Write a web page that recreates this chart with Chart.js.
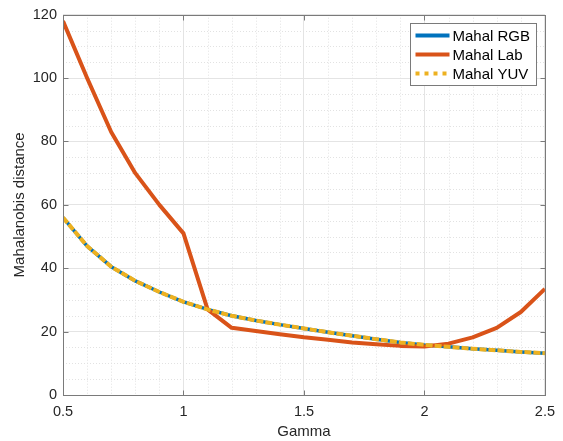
<!DOCTYPE html>
<html>
<head>
<meta charset="utf-8">
<script src="https://cdn.jsdelivr.net/npm/chart.js@4.4.0/dist/chart.umd.min.js"></script>
<style>
  html, body { margin: 0; padding: 0; background: #fff; }
  canvas { display: block; }
</style>
</head>
<body>
<canvas id="gammaChart" width="563" height="441"></canvas>
<script>
// gamma sweep and the resulting Mahalanobis distances per colour space
var gammaValues = [0.5, 0.6, 0.7, 0.8, 0.9, 1.0, 1.1, 1.2, 1.3, 1.4, 1.5,
                   1.6, 1.7, 1.8, 1.9, 2.0, 2.1, 2.2, 2.3, 2.4, 2.5];
var mahalRGB = [56, 47, 40.5, 36, 32.5, 29.4, 27, 25, 23.5, 22.2, 21,
                19.8, 18.7, 17.6, 16.6, 15.8, 15.2, 14.6, 14.1, 13.6, 13.2];
var mahalLab = [118, 100, 83, 70, 60, 51, 27, 21.2, 20.2, 19.2, 18.2,
                17.4, 16.6, 16, 15.5, 15.3, 16.2, 18.2, 21.2, 26.2, 33.5];
var mahalYUV = [56, 47, 40.5, 36, 32.5, 29.4, 27, 25, 23.5, 22.2, 21,
                19.8, 18.7, 17.6, 16.6, 15.8, 15.2, 14.6, 14.1, 13.6, 13.2];

var xTicks = [0.5, 1, 1.5, 2, 2.5];
var yTicks = [0, 20, 40, 60, 80, 100, 120];

var FONT = 'Helvetica, Arial, "Liberation Sans", sans-serif';
var TEXT = '#262626';

function pts(ys) {
    return gammaValues.map(function(g, i) { return {x: g, y: ys[i]}; });
}

// dotted minor grid, drawn under the curves
var minorGrid = {
    id: 'minorGrid',
    beforeDatasetsDraw: function(chart) {
        var ctx = chart.ctx, a = chart.chartArea;
        var xs = chart.scales.x, ys = chart.scales.y;
        ctx.save();
        ctx.strokeStyle = '#e2e2e2';
        ctx.lineWidth = 1;
        ctx.setLineDash([1, 2]);
        for (var i = 5; i <= 25; i++) {
            if (i % 5 === 0) continue;
            var px = Math.round(xs.getPixelForValue(i / 10)) + 0.5;
            ctx.beginPath(); ctx.moveTo(px, a.top); ctx.lineTo(px, a.bottom); ctx.stroke();
        }
        for (var v = 5; v < 120; v += 5) {
            if (v % 20 === 0) continue;
            var py = Math.round(ys.getPixelForValue(v)) + 0.5;
            ctx.beginPath(); ctx.moveTo(a.left, py); ctx.lineTo(a.right, py); ctx.stroke();
        }
        ctx.restore();
    }
};

// box round the axes with inward tick marks on all four sides
var axesBox = {
    id: 'axesBox',
    afterDatasetsDraw: function(chart) {
        var ctx = chart.ctx, a = chart.chartArea;
        var xs = chart.scales.x, ys = chart.scales.y;
        var L = Math.round(a.left) + 0.5, R = Math.round(a.right) + 0.5;
        var T = Math.round(a.top) + 0.5, B = Math.round(a.bottom) + 0.5;
        ctx.save();
        ctx.strokeStyle = '#7a7a7a';
        ctx.lineWidth = 1;
        ctx.strokeRect(L, T, R - L, B - T);
        ctx.beginPath();
        xTicks.forEach(function(v) {
            var px = Math.round(xs.getPixelForValue(v)) + 0.5;
            ctx.moveTo(px, B); ctx.lineTo(px, B - 5);
            ctx.moveTo(px, T); ctx.lineTo(px, T + 5);
        });
        yTicks.forEach(function(v) {
            var py = Math.round(ys.getPixelForValue(v)) + 0.5;
            ctx.moveTo(L, py); ctx.lineTo(L + 5, py);
            ctx.moveTo(R, py); ctx.lineTo(R - 5, py);
        });
        ctx.stroke();
        ctx.restore();
    }
};

// legend box in the top right corner of the axes
var boxLegend = {
    id: 'boxLegend',
    afterDraw: function(chart) {
        var ctx = chart.ctx, a = chart.chartArea;
        var w = 126, h = 62;
        var x0 = Math.round(a.right) - 9 - w + 0.5, y0 = Math.round(a.top) + 8 + 0.5;
        ctx.save();
        ctx.fillStyle = '#fff';
        ctx.fillRect(x0, y0, w, h);
        ctx.strokeStyle = '#7a7a7a';
        ctx.lineWidth = 1;
        ctx.strokeRect(x0, y0, w, h);
        ctx.font = '15px ' + FONT;
        ctx.textBaseline = 'middle';
        ctx.fillStyle = '#000';
        chart.data.datasets.forEach(function(ds, i) {
            var y = y0 + 12 + i * 19;
            ctx.beginPath();
            ctx.strokeStyle = ds.borderColor;
            ctx.lineWidth = 4;
            ctx.setLineDash(ds.borderDash && ds.borderDash.length ? [4, 5] : []);
            ctx.moveTo(x0 + 5, y); ctx.lineTo(x0 + 39, y);
            ctx.stroke();
            ctx.setLineDash([]);
            ctx.fillText(ds.label, x0 + 42, y + 1);
        });
        ctx.restore();
    }
};

var ctx = document.getElementById('gammaChart').getContext('2d');
var gammaChart = new Chart(ctx, {
    type: 'line',
    data: {
        datasets: [{
            label: 'Mahal RGB',
            data: pts(mahalRGB),
            borderColor: '#0072BD',
            borderWidth: 3.5,
            order: 3
        }, {
            label: 'Mahal Lab',
            data: pts(mahalLab),
            borderColor: '#D95319',
            borderWidth: 4,
            order: 2
        }, {
            label: 'Mahal YUV',
            data: pts(mahalYUV),
            borderColor: '#EDB120',
            borderWidth: 4,
            borderDash: [7, 2],
            order: 1
        }]
    },
    options: {
        responsive: false,
        animation: false,
        devicePixelRatio: 1,
        layout: { padding: { left: 1, top: 14, right: 15, bottom: 0 } },
        elements: {
            point: { radius: 0 },
            line: { tension: 0, borderJoinStyle: 'round', borderCapStyle: 'butt', fill: false }
        },
        plugins: {
            legend: { display: false },
            tooltip: { enabled: false }
        },
        scales: {
            x: {
                type: 'linear',
                min: 0.5,
                max: 2.5,
                afterBuildTicks: function(scale) {
                    scale.ticks = xTicks.map(function(v) { return {value: v}; });
                },
                afterFit: function(scale) { scale.height = 46; },
                grid: { color: '#e4e4e4', drawTicks: false },
                border: { display: false },
                ticks: {
                    padding: 8,
                    color: TEXT,
                    font: { family: FONT, size: 14.5 },
                    maxRotation: 0,
                    autoSkip: false,
                    callback: function(v) { return String(v); }
                },
                title: {
                    display: true,
                    text: 'Gamma',
                    color: TEXT,
                    font: { family: FONT, size: 15 },
                    padding: { top: 0, bottom: 0 }
                }
            },
            y: {
                min: 0,
                max: 120,
                afterBuildTicks: function(scale) {
                    scale.ticks = yTicks.map(function(v) { return {value: v}; });
                },
                afterFit: function(scale) { scale.width = 62; },
                grid: { color: '#e4e4e4', drawTicks: false },
                border: { display: false },
                ticks: {
                    padding: 6,
                    color: TEXT,
                    font: { family: FONT, size: 14.5 },
                    autoSkip: false,
                    callback: function(v) { return String(v); }
                },
                title: {
                    display: true,
                    text: 'Mahalanobis distance',
                    color: TEXT,
                    font: { family: FONT, size: 15 },
                    padding: { top: 10, bottom: 0 }
                }
            }
        }
    },
    plugins: [minorGrid, axesBox, boxLegend]
});
</script>
</body>
</html>
